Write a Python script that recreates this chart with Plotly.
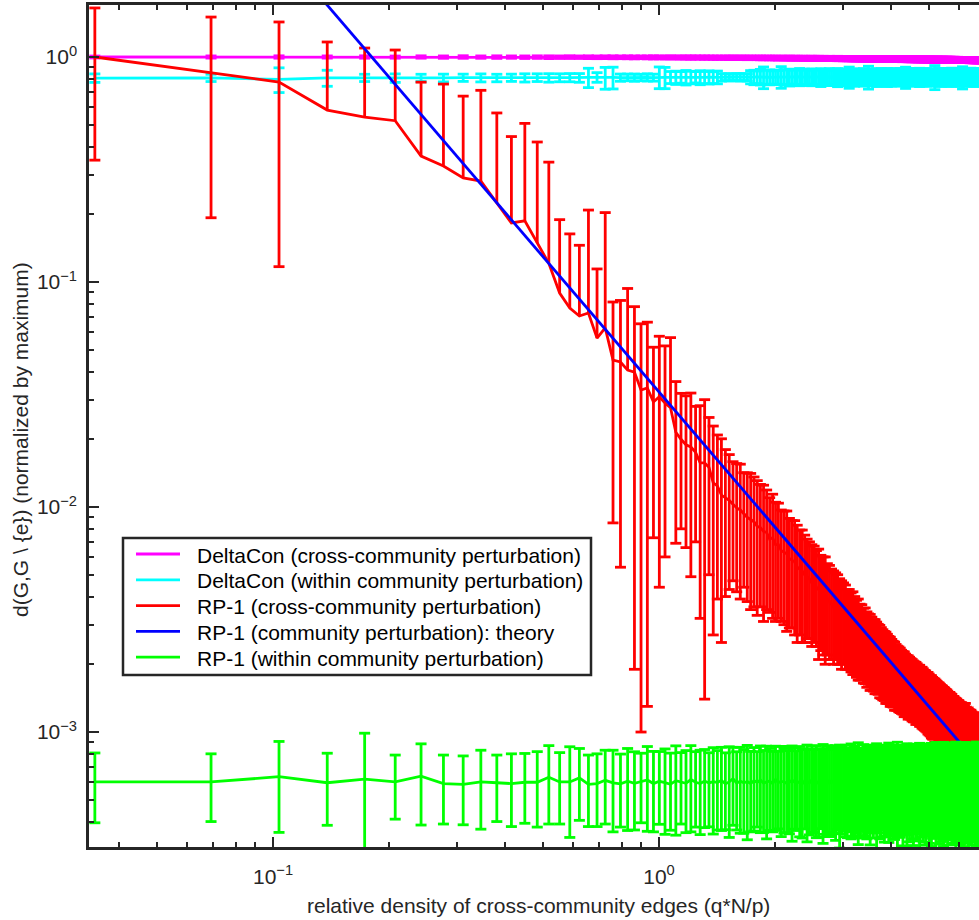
import numpy as np
import plotly.graph_objects as go

# ---------------------------------------------------------------------------
# Sampling grid: relative density of cross-community edges (q*N/p)
# ---------------------------------------------------------------------------
Q_STEP = 0.03455
N_PTS = 200
q = Q_STEP * np.arange(1, N_PTS + 1)

# DeltaCon, cross-community perturbation (mean, std)
dc_cross_mean = [
    1.0, 1.0, 1.0, 1.0, 1.0, 0.999, 1.0, 0.999, 1.0, 0.999, 0.999, 0.999, 0.998, 0.999, 0.998, 0.998, 0.999, 0.998, 0.998, 0.997,
    0.998, 0.997, 0.997, 0.997, 0.996, 0.997, 0.996, 0.996, 0.996, 0.995, 0.996, 0.995, 0.995, 0.995, 0.994, 0.995, 0.994, 0.994, 0.994, 0.993,
    0.993, 0.993, 0.993, 0.992, 0.993, 0.992, 0.992, 0.992, 0.991, 0.992, 0.991, 0.991, 0.991, 0.990, 0.991, 0.990, 0.990, 0.990, 0.989, 0.990,
    0.989, 0.989, 0.989, 0.988, 0.989, 0.988, 0.988, 0.988, 0.987, 0.988, 0.987, 0.987, 0.987, 0.986, 0.987, 0.986, 0.986, 0.986, 0.985, 0.986,
    0.985, 0.985, 0.985, 0.985, 0.984, 0.985, 0.984, 0.984, 0.984, 0.983, 0.984, 0.983, 0.983, 0.983, 0.983, 0.982, 0.983, 0.982, 0.982, 0.982,
    0.982, 0.981, 0.982, 0.981, 0.981, 0.981, 0.981, 0.980, 0.981, 0.980, 0.980, 0.980, 0.980, 0.979, 0.980, 0.979, 0.979, 0.979, 0.979, 0.978,
    0.979, 0.978, 0.978, 0.978, 0.978, 0.978, 0.977, 0.978, 0.977, 0.977, 0.977, 0.977, 0.976, 0.977, 0.976, 0.976, 0.976, 0.976, 0.975, 0.976,
    0.975, 0.975, 0.975, 0.975, 0.975, 0.974, 0.975, 0.974, 0.974, 0.974, 0.974, 0.974, 0.973, 0.974, 0.973, 0.973, 0.973, 0.973, 0.973, 0.972,
    0.973, 0.972, 0.972, 0.972, 0.972, 0.972, 0.971, 0.972, 0.971, 0.971, 0.971, 0.971, 0.971, 0.970, 0.971, 0.970, 0.970, 0.970, 0.970, 0.970,
    0.970, 0.969, 0.970, 0.969, 0.969, 0.969, 0.969, 0.969, 0.968, 0.969, 0.968, 0.968, 0.968, 0.968, 0.968, 0.968, 0.967, 0.968, 0.967, 0.967,
]
dc_cross_err = [
    0.010, 0.011, 0.012, 0.011, 0.012, 0.011, 0.012, 0.012, 0.013, 0.012, 0.013, 0.012, 0.013, 0.013, 0.014, 0.013, 0.014, 0.013, 0.014, 0.014,
    0.014, 0.015, 0.014, 0.015, 0.015, 0.014, 0.015, 0.016, 0.015, 0.015, 0.016, 0.015, 0.016, 0.016, 0.017, 0.016, 0.016, 0.017, 0.016, 0.017,
    0.017, 0.016, 0.017, 0.018, 0.017, 0.017, 0.018, 0.017, 0.018, 0.018, 0.017, 0.018, 0.019, 0.018, 0.018, 0.019, 0.018, 0.019, 0.019, 0.018,
    0.019, 0.019, 0.020, 0.019, 0.019, 0.020, 0.019, 0.020, 0.020, 0.019, 0.020, 0.021, 0.020, 0.020, 0.021, 0.020, 0.021, 0.020, 0.021, 0.021,
    0.020, 0.021, 0.021, 0.022, 0.021, 0.021, 0.022, 0.021, 0.022, 0.022, 0.021, 0.022, 0.023, 0.022, 0.022, 0.023, 0.022, 0.023, 0.022, 0.023,
    0.022, 0.023, 0.023, 0.022, 0.023, 0.024, 0.023, 0.022, 0.023, 0.024, 0.023, 0.023, 0.024, 0.023, 0.024, 0.023, 0.024, 0.024, 0.023, 0.024,
    0.024, 0.023, 0.024, 0.025, 0.024, 0.023, 0.024, 0.025, 0.024, 0.024, 0.025, 0.024, 0.023, 0.025, 0.024, 0.025, 0.024, 0.024, 0.025, 0.024,
    0.025, 0.024, 0.025, 0.024, 0.025, 0.026, 0.024, 0.025, 0.025, 0.024, 0.025, 0.026, 0.025, 0.024, 0.025, 0.025, 0.026, 0.025, 0.024, 0.025,
    0.026, 0.025, 0.025, 0.026, 0.025, 0.024, 0.026, 0.025, 0.026, 0.025, 0.025, 0.026, 0.025, 0.026, 0.025, 0.026, 0.025, 0.025, 0.026, 0.025,
    0.026, 0.025, 0.026, 0.025, 0.026, 0.026, 0.025, 0.026, 0.025, 0.026, 0.026, 0.025, 0.026, 0.026, 0.025, 0.026, 0.025, 0.026, 0.026, 0.025,
]

# DeltaCon, within-community perturbation (mean, std)
dc_within_mean = [
    0.806, 0.808, 0.795, 0.807, 0.808, 0.806, 0.808, 0.807, 0.809, 0.808, 0.807, 0.809, 0.808, 0.810, 0.808, 0.809, 0.810, 0.808, 0.811, 0.812,
    0.809, 0.811, 0.810, 0.812, 0.810, 0.811, 0.812, 0.810, 0.813, 0.811, 0.812, 0.810, 0.813, 0.811, 0.812, 0.814, 0.811, 0.812, 0.813, 0.811,
    0.813, 0.812, 0.814, 0.812, 0.813, 0.815, 0.812, 0.814, 0.813, 0.815, 0.813, 0.814, 0.816, 0.813, 0.815, 0.814, 0.812, 0.815, 0.814, 0.816,
    0.814, 0.815, 0.813, 0.816, 0.814, 0.815, 0.817, 0.814, 0.815, 0.813, 0.816, 0.815, 0.814, 0.816, 0.815, 0.813, 0.816, 0.814, 0.815, 0.817,
    0.815, 0.814, 0.816, 0.813, 0.815, 0.816, 0.814, 0.815, 0.817, 0.814, 0.816, 0.815, 0.813, 0.816, 0.814, 0.815, 0.817, 0.815, 0.814, 0.816,
    0.815, 0.817, 0.814, 0.816, 0.815, 0.813, 0.816, 0.815, 0.817, 0.814, 0.815, 0.816, 0.814, 0.817, 0.815, 0.813, 0.816, 0.815, 0.814, 0.816,
    0.815, 0.817, 0.814, 0.815, 0.816, 0.813, 0.815, 0.817, 0.814, 0.816, 0.815, 0.814, 0.816, 0.815, 0.817, 0.814, 0.815, 0.816, 0.813, 0.815,
    0.816, 0.814, 0.815, 0.817, 0.815, 0.814, 0.816, 0.815, 0.813, 0.816, 0.815, 0.817, 0.814, 0.815, 0.816, 0.814, 0.815, 0.817, 0.815, 0.814,
    0.816, 0.815, 0.813, 0.816, 0.815, 0.817, 0.814, 0.815, 0.816, 0.814, 0.815, 0.817, 0.815, 0.814, 0.816, 0.815, 0.813, 0.816, 0.815, 0.817,
    0.814, 0.815, 0.816, 0.814, 0.815, 0.817, 0.815, 0.814, 0.816, 0.815, 0.813, 0.816, 0.815, 0.817, 0.814, 0.815, 0.816, 0.814, 0.815, 0.816,
]
dc_within_err = [
    0.035, 0.030, 0.100, 0.066, 0.030, 0.035, 0.030, 0.032, 0.030, 0.033, 0.031, 0.030, 0.034, 0.032, 0.035, 0.033, 0.034, 0.036, 0.080, 0.040,
    0.090, 0.090, 0.030, 0.028, 0.030, 0.027, 0.030, 0.029, 0.090, 0.088, 0.050, 0.055, 0.048, 0.060, 0.052, 0.047, 0.058, 0.050, 0.055, 0.049,
    0.053, 0.030, 0.028, 0.030, 0.027, 0.029, 0.031, 0.028, 0.030, 0.055, 0.060, 0.052, 0.065, 0.090, 0.058, 0.062, 0.055, 0.060, 0.057, 0.090,
    0.065, 0.060, 0.070, 0.058, 0.066, 0.062, 0.072, 0.060, 0.068, 0.064, 0.058, 0.070, 0.062, 0.066, 0.060, 0.074, 0.063, 0.068, 0.059, 0.071,
    0.064, 0.060, 0.069, 0.075, 0.062, 0.066, 0.058, 0.070, 0.064, 0.088, 0.061, 0.067, 0.072, 0.060, 0.065, 0.069, 0.062, 0.073, 0.066, 0.060,
    0.095, 0.064, 0.070, 0.062, 0.068, 0.074, 0.061, 0.066, 0.071, 0.063, 0.069, 0.060, 0.075, 0.065, 0.062, 0.070, 0.067, 0.073, 0.061, 0.068,
    0.064, 0.072, 0.066, 0.060, 0.070, 0.088, 0.063, 0.069, 0.065, 0.074, 0.061, 0.067, 0.072, 0.064, 0.068, 0.062, 0.076, 0.066, 0.070, 0.063,
    0.069, 0.065, 0.073, 0.061, 0.067, 0.071, 0.064, 0.070, 0.066, 0.100, 0.068, 0.063, 0.072, 0.065, 0.069, 0.074, 0.062, 0.067, 0.071, 0.064,
    0.070, 0.066, 0.073, 0.062, 0.068, 0.075, 0.064, 0.069, 0.066, 0.072, 0.063, 0.070, 0.067, 0.074, 0.065, 0.069, 0.092, 0.066, 0.071, 0.064,
    0.068, 0.073, 0.065, 0.070, 0.067, 0.075, 0.063, 0.069, 0.072, 0.066, 0.070, 0.064, 0.073, 0.068, 0.071, 0.065, 0.070, 0.067, 0.074, 0.069,
]

# RP-1, cross-community perturbation (mean, std)
rp1_cross_mean = [
    1.0, 0.849, 0.774, 0.581, 0.541, 0.521, 0.363, 0.328, 0.290, 0.281, 0.224, 0.183, 0.187, 0.149, 0.121, 0.0893, 0.0766, 0.0706, 0.0728, 0.0563,
    0.0625, 0.0450, 0.0441, 0.0406, 0.0398, 0.0331, 0.0338, 0.0293, 0.0309, 0.0290, 0.0276, 0.0215, 0.0200, 0.0189, 0.0185, 0.0175, 0.0157, 0.0157, 0.0150, 0.0128,
    0.0124, 0.0113, 0.0110, 0.0107, 0.0103, 0.0099, 0.0097, 0.0093, 0.0090, 0.0088, 0.0086, 0.0082, 0.0081, 0.0078, 0.0077, 0.0072, 0.0073, 0.0068, 0.0068, 0.0064,
    0.0063, 0.0062, 0.0059, 0.0058, 0.0057, 0.0054, 0.0053, 0.0052, 0.0050, 0.0049, 0.0048, 0.0046, 0.0046, 0.0044, 0.0043, 0.0042, 0.0041, 0.0040, 0.0039, 0.0038,
    0.0037, 0.0036, 0.0036, 0.0035, 0.0034, 0.0033, 0.0033, 0.0032, 0.0031, 0.0031, 0.0030, 0.0030, 0.0029, 0.0028, 0.0028, 0.0027, 0.0027, 0.0026, 0.0026, 0.0025,
    0.00247, 0.00243, 0.00239, 0.00234, 0.00232, 0.00228, 0.00224, 0.00220, 0.00216, 0.00212, 0.00209, 0.00206, 0.00203, 0.00200, 0.00197, 0.00194, 0.00191, 0.00188, 0.00185, 0.00183,
    0.00181, 0.00179, 0.00176, 0.00174, 0.00172, 0.00170, 0.00168, 0.00166, 0.00165, 0.00163, 0.00161, 0.00159, 0.00158, 0.00156, 0.00155, 0.00153, 0.00152, 0.00150, 0.00149, 0.00147,
    0.00145, 0.00144, 0.00142, 0.00141, 0.00139, 0.00137, 0.00136, 0.00134, 0.00133, 0.00131, 0.00130, 0.00128, 0.00127, 0.00125, 0.00124, 0.00123, 0.00121, 0.00120, 0.00119, 0.00118,
    0.00117, 0.00115, 0.00114, 0.00113, 0.00112, 0.00111, 0.00109, 0.00108, 0.00107, 0.00106, 0.00105, 0.00104, 0.00103, 0.00102, 0.00101, 0.00100, 0.00099, 0.00098, 0.00097, 0.00096,
    0.00095, 0.00094, 0.00094, 0.00093, 0.00092, 0.00091, 0.00090, 0.00089, 0.00089, 0.00088, 0.00087, 0.00086, 0.00086, 0.00085, 0.00084, 0.00083, 0.00083, 0.00082, 0.00081, 0.00081,
]
rp1_cross_err = [
    0.652, 0.656, 0.657, 0.585, 0.555, 0.553, 0.410, 0.430, 0.380, 0.430, 0.340, 0.260, 0.320, 0.270, 0.220, 0.100, 0.087, 0.075, 0.136, 0.058,
    0.141, 0.0365, 0.0387, 0.053, 0.0379, 0.0321, 0.0325, 0.0220, 0.0265, 0.0230, 0.0290, 0.0146, 0.0120, 0.0123, 0.0136, 0.0105, 0.0125, 0.0143, 0.0100, 0.0101,
    0.0085, 0.0088, 0.0070, 0.0064, 0.0056, 0.0057, 0.0058, 0.0049, 0.0052, 0.0053, 0.0050, 0.0049, 0.0045, 0.0047, 0.0042, 0.0038, 0.0041, 0.0037, 0.0036, 0.0033,
    0.0033, 0.0034, 0.0030, 0.0029, 0.0030, 0.0029, 0.0026, 0.0027, 0.0025, 0.0023, 0.0022, 0.0022, 0.0021, 0.0020, 0.0022, 0.0019, 0.0019, 0.0020, 0.0017, 0.0017,
    0.0016, 0.0016, 0.0015, 0.0015, 0.0014, 0.0014, 0.0013, 0.0013, 0.0012, 0.0012, 0.00115, 0.0012, 0.0011, 0.00105, 0.0011, 0.0010, 0.00098, 0.00095, 0.00096, 0.00092,
    0.00088, 0.00090, 0.00085, 0.00082, 0.00084, 0.00080, 0.00077, 0.00078, 0.00075, 0.00073, 0.00071, 0.00072, 0.00069, 0.00066, 0.00067, 0.00064, 0.00062, 0.00063, 0.00060, 0.00058,
    0.00058, 0.00057, 0.00055, 0.00054, 0.00055, 0.00052, 0.00051, 0.00052, 0.00050, 0.00049, 0.00049, 0.00048, 0.00047, 0.00048, 0.00046, 0.00045, 0.00046, 0.00044, 0.00045, 0.00044,
    0.00043, 0.00043, 0.00042, 0.00043, 0.00042, 0.00041, 0.00042, 0.00041, 0.00040, 0.00041, 0.00040, 0.00040, 0.00039, 0.00040, 0.00039, 0.00038, 0.00039, 0.00038, 0.00038, 0.00037,
    0.00037, 0.00037, 0.00036, 0.00037, 0.00036, 0.00036, 0.00035, 0.00036, 0.00035, 0.00035, 0.00035, 0.00034, 0.00035, 0.00034, 0.00034, 0.00035, 0.00034, 0.00033, 0.00034, 0.00038,
    0.00034, 0.00033, 0.00034, 0.00033, 0.00033, 0.00034, 0.00033, 0.00032, 0.00033, 0.00033, 0.00032, 0.00033, 0.00032, 0.00032, 0.00033, 0.00032, 0.00031, 0.00032, 0.00032, 0.00031,
]

# RP-1, community perturbation: theoretical curve (end points)
theory_q = [0.03455, 6.91]
theory_d = [27.2, 0.00068]

# RP-1, within-community perturbation (mean, std), in units of 1e-4
rp1_within_mean_e4 = [
    6.01, 6.00, 6.33, 5.95, 6.18, 6.00, 6.36, 5.90, 5.85, 6.00, 5.95, 5.90, 5.98, 5.98, 6.30, 6.00, 6.00, 6.25, 5.85, 5.90,
    6.10, 5.95, 5.88, 6.05, 5.92, 6.00, 6.12, 5.90, 6.04, 5.96, 5.86, 6.08, 6.00, 5.92, 6.15, 5.98, 5.90, 6.06, 5.94, 6.02,
    5.97, 6.10, 5.88, 6.00, 6.20, 5.92, 6.05, 5.95, 6.02, 5.90, 6.08, 5.98, 6.12, 5.93, 6.00, 6.05, 5.90, 6.15, 5.96, 6.03,
    6.00, 5.92, 6.08, 5.97, 6.10, 5.95, 6.02, 5.88, 6.06, 6.00, 5.94, 6.12, 5.98, 6.04, 5.91, 6.07, 6.00, 5.96, 6.10, 5.93,
    6.05, 5.97, 6.00, 6.12, 5.90, 6.03, 5.98, 6.08, 5.94, 6.01, 6.10, 5.92, 6.04, 5.99, 6.06, 5.93, 6.02, 6.09, 5.96, 6.00,
    6.04, 5.95, 6.11, 5.98, 6.02, 5.92, 6.07, 6.00, 5.96, 6.13, 5.99, 6.03, 5.94, 6.08, 6.00, 5.97, 6.05, 5.93, 6.10, 6.01,
    5.96, 6.06, 6.00, 5.92, 6.09, 6.02, 5.97, 6.04, 5.95, 6.11, 6.00, 5.98, 6.06, 5.93, 6.03, 6.08, 5.96, 6.01, 6.05, 5.94,
    6.07, 5.99, 6.02, 6.10, 5.95, 6.04, 6.00, 5.97, 6.08, 6.01, 5.94, 6.06, 6.03, 5.98, 6.12, 5.96, 6.02, 6.05, 5.99, 6.07,
    6.00, 5.95, 6.09, 6.03, 5.98, 6.06, 6.01, 5.96, 6.10, 6.02, 5.97, 6.05, 6.00, 6.08, 5.95, 6.03, 6.06, 5.99, 6.04, 6.01,
    5.97, 6.07, 6.02, 6.00, 6.09, 5.96, 6.04, 6.01, 6.06, 5.98, 6.03, 6.08, 6.00, 5.97, 6.05, 6.02, 6.07, 5.99, 6.04, 6.01,
]
rp1_within_err_e4 = [
    2.06, 2.00, 2.75, 2.10, 3.70, 1.90, 2.50, 2.00, 1.98, 2.30, 1.95, 2.10, 2.05, 2.20, 2.40, 2.10, 2.60, 2.20, 2.05, 2.10,
    2.20, 2.35, 2.10, 2.40, 2.25, 2.05, 2.50, 2.30, 2.15, 2.45, 2.20, 2.60, 2.10, 2.35, 2.55, 2.20, 2.40, 2.30, 2.15, 2.50,
    2.30, 2.45, 2.20, 2.60, 2.35, 2.25, 2.50, 2.40, 2.70, 2.30, 2.45, 2.20, 2.55, 2.35, 2.65, 2.40, 2.30, 2.50, 2.25, 2.60,
    2.45, 2.35, 2.55, 2.70, 2.40, 2.30, 2.60, 2.50, 2.35, 2.75, 2.45, 2.55, 2.40, 2.65, 2.50, 2.35, 2.80, 2.45, 2.60, 2.50,
    2.55, 2.40, 2.70, 2.45, 2.85, 2.50, 2.35, 2.65, 2.55, 2.40, 2.75, 2.50, 2.60, 2.45, 2.90, 2.55, 2.40, 2.70, 2.50, 2.65,
    2.45, 2.80, 2.55, 2.60, 2.40, 2.95, 2.50, 2.65, 2.55, 2.45, 2.75, 2.60, 2.50, 2.85, 2.55, 2.45, 2.70, 2.60, 2.50, 3.00,
    2.55, 2.65, 2.45, 2.80, 2.60, 2.50, 2.90, 2.55, 2.70, 2.45, 2.65, 2.85, 2.50, 2.60, 2.75, 2.55, 2.95, 2.60, 2.50, 2.70,
    2.60, 2.85, 2.55, 2.65, 2.75, 2.50, 2.90, 2.60, 2.70, 2.55, 3.05, 2.65, 2.60, 2.80, 2.55, 2.70, 2.65, 2.95, 2.60, 2.75,
    2.55, 2.80, 2.65, 2.70, 2.60, 2.90, 2.55, 2.75, 2.65, 3.00, 2.60, 2.70, 2.85, 2.55, 2.75, 2.65, 2.80, 2.60, 2.95, 2.70,
    2.65, 2.85, 2.60, 2.75, 2.70, 2.55, 2.90, 2.65, 2.80, 2.60, 2.75, 2.95, 2.65, 2.70, 2.85, 2.60, 2.75, 2.70, 2.90, 2.65,
]
rp1_within_mean = [v * 1e-4 for v in rp1_within_mean_e4]
rp1_within_err = [v * 1e-4 for v in rp1_within_err_e4]

legend_labels = [
    "DeltaCon (cross-community perturbation)",
    "DeltaCon (within community perturbation)",
    "RP-1 (cross-community perturbation)",
    "RP-1 (community perturbation): theory",
    "RP-1 (within community perturbation)",
]
series_colors = ["#ff00ff", "#00ffff", "#ff0000", "#0000ff", "#00ff00"]

# ---------------------------------------------------------------------------
# Layout geometry
# ---------------------------------------------------------------------------
FIG_W, FIG_H = 979, 920
M_L, M_R, M_T, M_B = 89, 0, 5, 73
X_RANGE = [-1.4767, 0.8290]     # log10 limits
Y_RANGE = [-3.511, 0.2311]
PLOT_W = FIG_W - M_L - M_R
PLOT_H = FIG_H - M_T - M_B
PX_PER_DEC_X = PLOT_W / (X_RANGE[1] - X_RANGE[0])
CAP_HALF_PX = 5.5
CAP_RATIO = 10 ** (CAP_HALF_PX / PX_PER_DEC_X)
LW = 2.8
AX_COLOR = "#262626"
FONT = "Liberation Sans, Arial, Helvetica, sans-serif"


def px_x(px):
    return (px - M_L) / PLOT_W


def px_y(py):
    return (M_T + PLOT_H - py) / PLOT_H


def errorbar_path(x, m, e):
    """Vertical bars with caps; bars whose lower end is not positive start at the mean."""
    xs, ys = [], []
    for xi, mi, ei in zip(x, m, e):
        hi, lo = mi + ei, mi - ei
        xl, xr = xi / CAP_RATIO, xi * CAP_RATIO
        if lo > 0:
            xs += [xi, xi, None, xl, xr, None, xl, xr, None]
            ys += [lo, hi, None, hi, hi, None, lo, lo, None]
        else:
            xs += [xi, xi, None, xl, xr, None]
            ys += [mi, hi, None, hi, hi, None]
    return xs, ys


fig = go.Figure()


def add_errorbar_series(mean, err, color):
    bx, by = errorbar_path(q, mean, err)
    fig.add_trace(go.Scatter(x=bx, y=by, mode="lines", line=dict(color=color, width=LW),
                             hoverinfo="skip", showlegend=False))
    fig.add_trace(go.Scatter(x=q, y=mean, mode="lines", line=dict(color=color, width=LW),
                             hoverinfo="skip", showlegend=False))


add_errorbar_series(dc_cross_mean, dc_cross_err, series_colors[0])
add_errorbar_series(dc_within_mean, dc_within_err, series_colors[1])
add_errorbar_series(rp1_cross_mean, rp1_cross_err, series_colors[2])
fig.add_trace(go.Scatter(x=theory_q, y=theory_d, mode="lines",
                         line=dict(color=series_colors[3], width=LW),
                         hoverinfo="skip", showlegend=False))
add_errorbar_series(rp1_within_mean, rp1_within_err, series_colors[4])

# ---------------------------------------------------------------------------
# Axes
# ---------------------------------------------------------------------------
x_major = [0.1, 1.0]
x_major_text = ["10<sup>\u22121</sup>", "10<sup>0</sup>"]
x_minor = [m * d for d in (0.01, 0.1, 1.0) for m in range(2, 10)
           if X_RANGE[0] < np.log10(m * d) < X_RANGE[1]]
y_major = [1e-3, 1e-2, 1e-1, 1.0]
y_major_text = ["10<sup>\u22123</sup>", "10<sup>\u22122</sup>", "10<sup>\u22121</sup>", "10<sup>0</sup>"]
y_minor = [m * d for d in (1e-4, 1e-3, 1e-2, 1e-1, 1.0) for m in range(2, 10)
           if Y_RANGE[0] < np.log10(m * d) < Y_RANGE[1]]

tick_font = dict(family=FONT, size=21, color=AX_COLOR)
common_axis = dict(
    type="log", showline=True, linecolor=AX_COLOR, linewidth=2.5,
    ticks="inside", ticklen=10, tickwidth=2, tickcolor=AX_COLOR,
    tickmode="array", showgrid=False, zeroline=False, tickfont=tick_font,
)

fig.update_xaxes(
    **common_axis, range=X_RANGE, mirror="ticks",
    tickvals=x_major, ticktext=x_major_text, ticklabelstandoff=9,
    minor=dict(ticks="inside", ticklen=5, tickwidth=2, tickcolor=AX_COLOR,
               tickmode="array", tickvals=x_minor, showgrid=False),
)
fig.update_yaxes(
    **common_axis, range=Y_RANGE, mirror=False,
    tickvals=y_major, ticktext=y_major_text, ticklabelstandoff=5,
    minor=dict(ticks="inside", ticklen=5, tickwidth=2, tickcolor=AX_COLOR,
               tickmode="array", tickvals=y_minor, showgrid=False),
)

# ---------------------------------------------------------------------------
# Axis titles and legend box
# ---------------------------------------------------------------------------
annotations = [
    dict(text="relative density of cross-community edges (q*N/p)",
         x=px_x(538), y=px_y(905), xref="paper", yref="paper",
         xanchor="center", yanchor="middle", showarrow=False,
         font=dict(family=FONT, size=21, color=AX_COLOR)),
    dict(text="d(G,G \\ {e}) (normalized by maximum)",
         x=px_x(20), y=px_y(440), xref="paper", yref="paper",
         xanchor="center", yanchor="middle", showarrow=False, textangle=-90,
         font=dict(family=FONT, size=21, color=AX_COLOR)),
]

LEG_BOX = (123, 538, 591, 675)   # left, top, right, bottom (px)
LEG_ROW0, LEG_ROW_DY = 554, 25.8
LEG_LINE_X0, LEG_LINE_X1, LEG_TEXT_X = 136, 180, 195

shapes = [dict(type="rect", xref="paper", yref="paper",
               x0=px_x(LEG_BOX[0]), x1=px_x(LEG_BOX[2]),
               y0=px_y(LEG_BOX[3]), y1=px_y(LEG_BOX[1]),
               line=dict(color=AX_COLOR, width=2.5), fillcolor="white", layer="above")]
for i, (label, color) in enumerate(zip(legend_labels, series_colors)):
    yy = LEG_ROW0 + i * LEG_ROW_DY
    shapes.append(dict(type="line", xref="paper", yref="paper",
                       x0=px_x(LEG_LINE_X0), x1=px_x(LEG_LINE_X1),
                       y0=px_y(yy), y1=px_y(yy),
                       line=dict(color=color, width=LW), layer="above"))
    annotations.append(dict(text=label, x=px_x(LEG_TEXT_X), y=px_y(yy + 1),
                            xref="paper", yref="paper", xanchor="left", yanchor="middle",
                            showarrow=False, font=dict(family=FONT, size=21, color="#000000")))

fig.update_layout(
    width=FIG_W, height=FIG_H,
    margin=dict(l=M_L, r=M_R, t=M_T, b=M_B, pad=0),
    paper_bgcolor="white", plot_bgcolor="white",
    showlegend=False,
    shapes=shapes, annotations=annotations,
    font=dict(family=FONT, color=AX_COLOR),
)

fig.write_html("out.html", config={"displayModeBar": False})
